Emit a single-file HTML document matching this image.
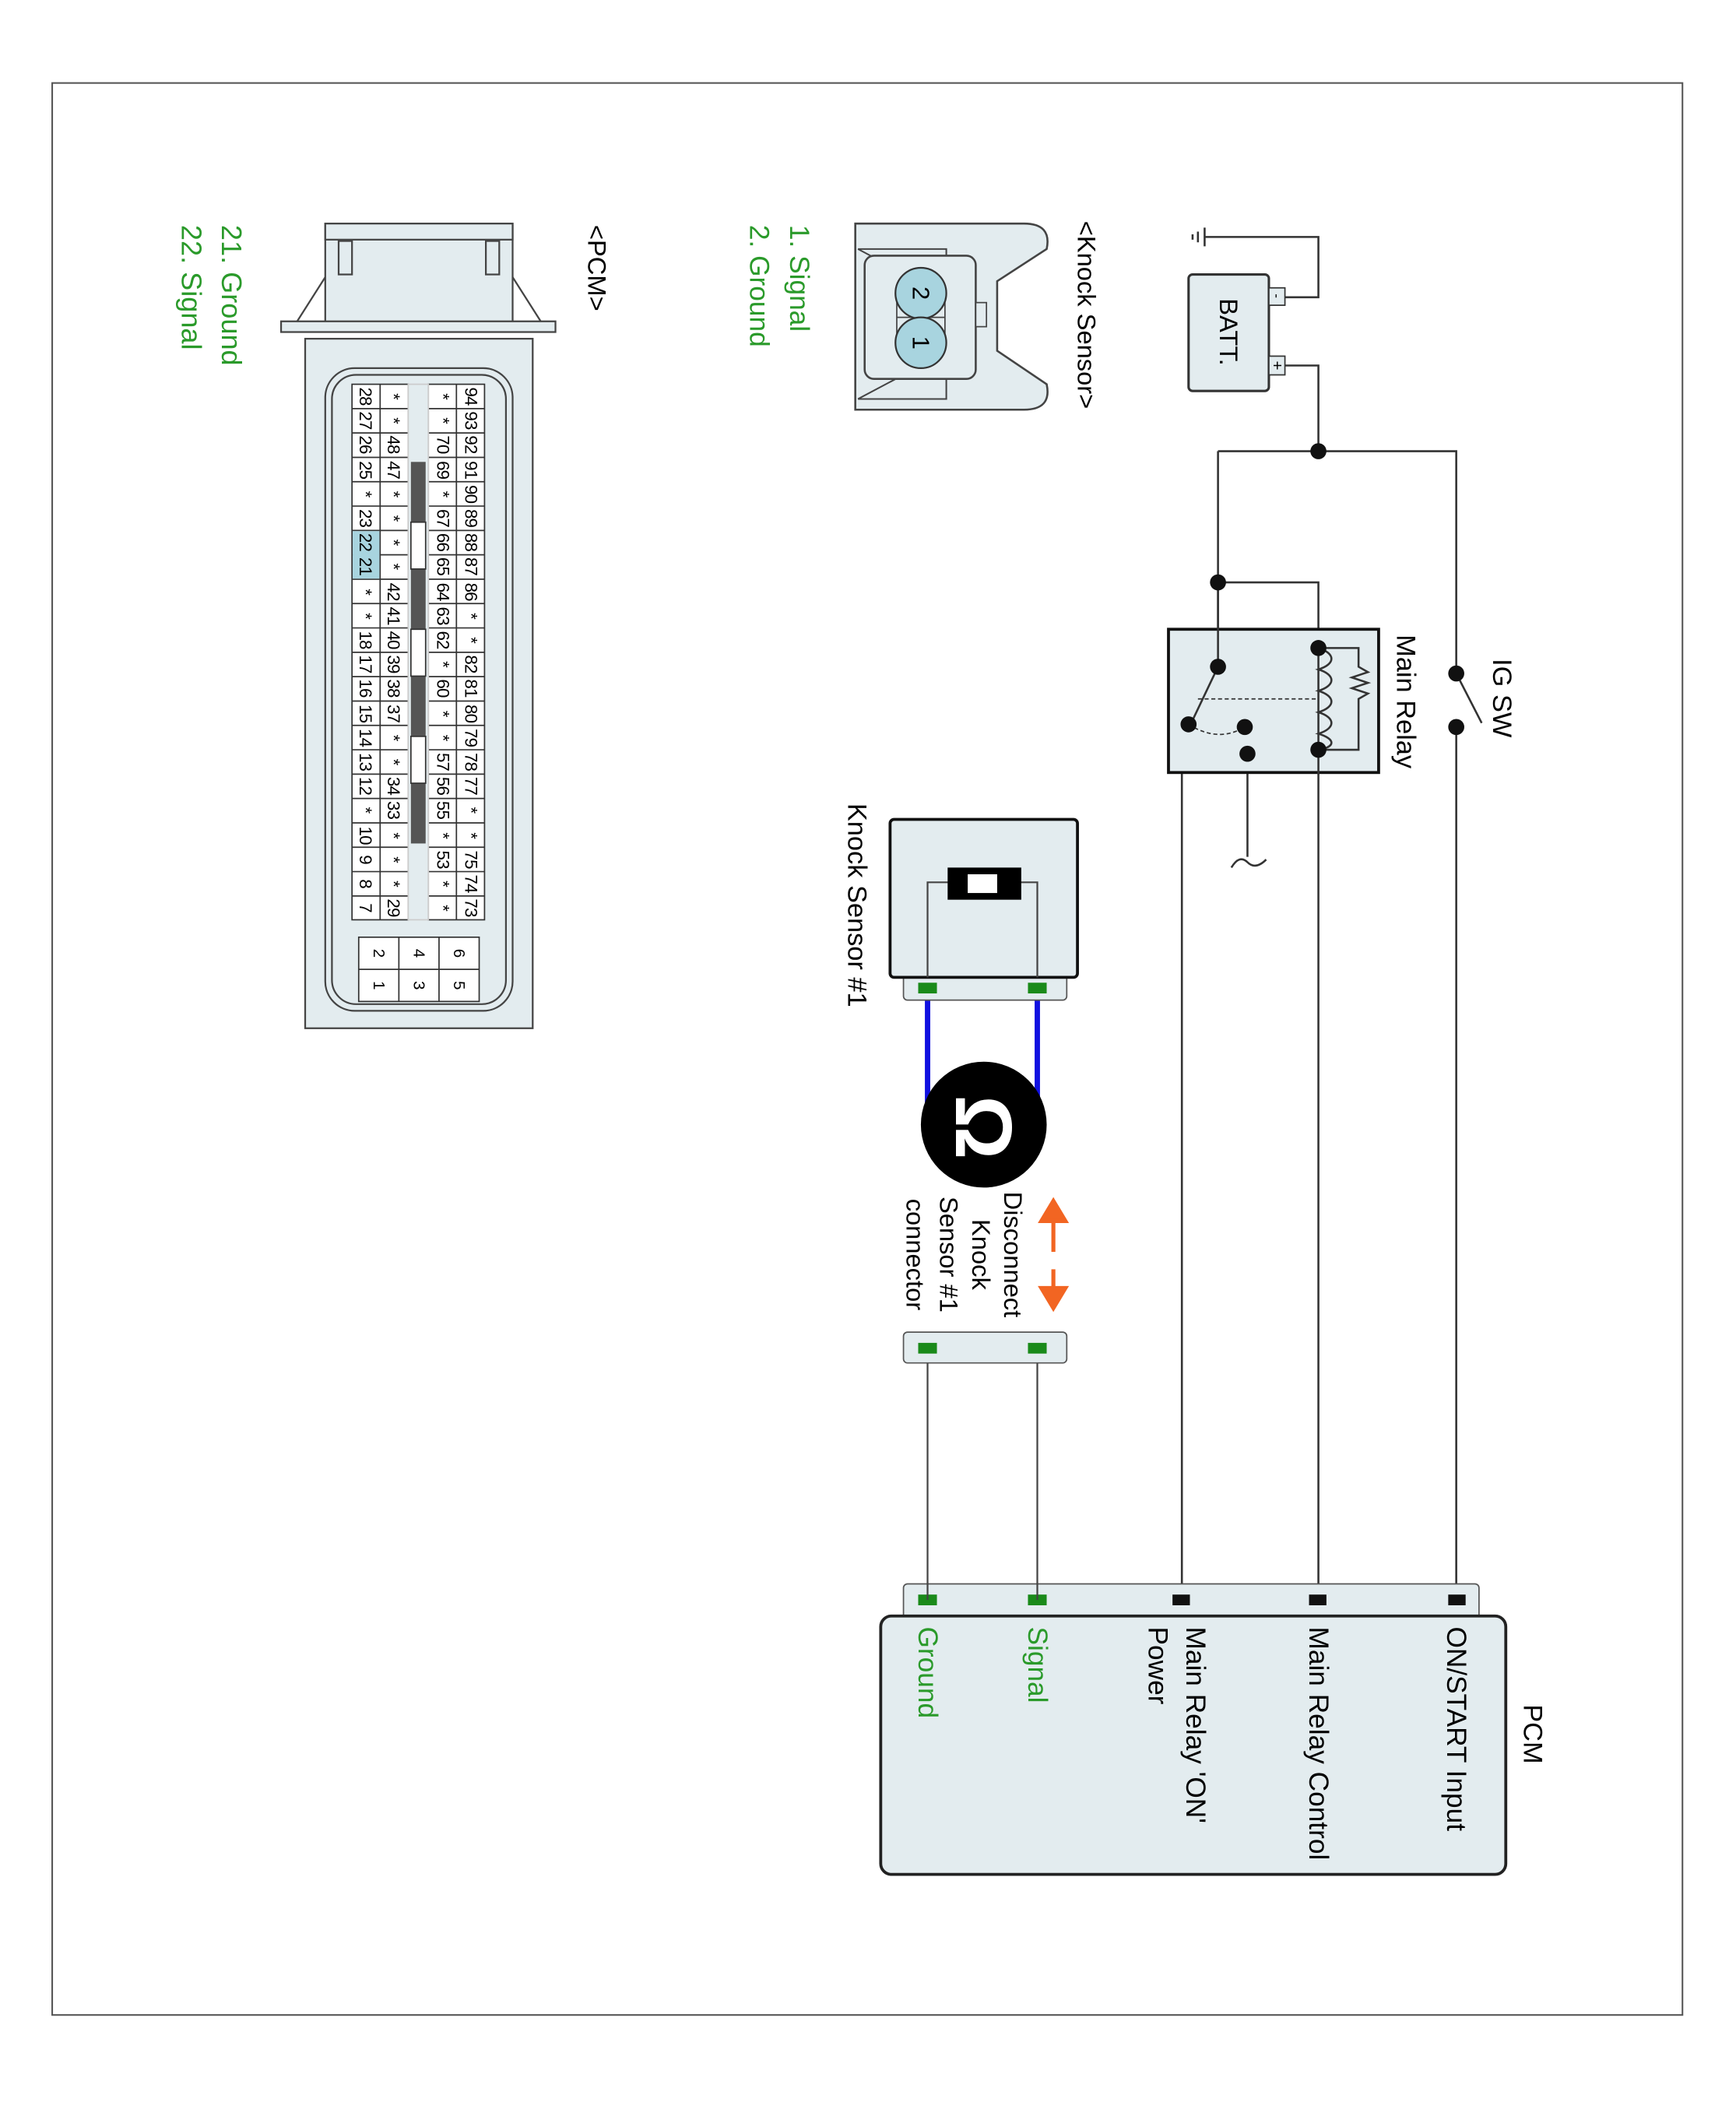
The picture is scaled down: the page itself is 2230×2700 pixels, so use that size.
<!DOCTYPE html>
<html><head><meta charset="utf-8"><style>
html,body{margin:0;padding:0;background:#fff;}
svg{display:block;}
text{font-family:"Liberation Sans",sans-serif;}
</style></head><body>
<svg width="2230" height="2700" viewBox="0 0 1297 1570" preserveAspectRatio="none" xmlns="http://www.w3.org/2000/svg">
<rect x="0" y="0" width="1297" height="1570" fill="#fff"/>
<rect x="39" y="62" width="1218" height="1443" fill="none" stroke="#555" stroke-width="1.2"/>

<g stroke="#333" stroke-width="1.5" fill="none">
<path d="M900,177 H985 V222 H960"/>
<path d="M900,170 V184 M895,173 V181 M891,175 V179"/>
<path d="M960,273 H985 V337"/>
<path d="M910,337 H1088 V503"/>
<path d="M910,337 V498"/>
<path d="M910,435 H985 V484"/>
<path d="M1088,503 L1107,540"/>
<path d="M1088,543 V1195"/>
<path d="M985,560 V1195"/>
<path d="M932,543 V640"/>
<path d="M932,563 H883 V1195"/>
</g>
<rect x="888" y="205" width="60" height="87" rx="3" fill="#e3ecef" stroke="#333" stroke-width="1.8"/>
<rect x="948" y="215" width="12" height="13" fill="#e3ecef" stroke="#333"/>
<rect x="948" y="266" width="12" height="14" fill="#e3ecef" stroke="#333"/>
<text transform="translate(918,248) rotate(90)" text-anchor="middle" dominant-baseline="central" font-size="19">BATT.</text>
<text transform="translate(954,221) rotate(90)" text-anchor="middle" dominant-baseline="central" font-size="10">-</text>
<text transform="translate(954,273) rotate(90)" text-anchor="middle" dominant-baseline="central" font-size="12">+</text>

<rect x="873" y="470" width="157" height="107" fill="#e3ecef" stroke="#111" stroke-width="2.2"/>
<g stroke="#333" stroke-width="1.5" fill="none">
<path d="M910,435 V498 L890,540"/>
<path d="M985,484 V578"/>
<path d="M985,484 C998,488 998,496 985,500 C998,504 998,512 985,516 C998,520 998,528 985,532 C998,536 998,544 985,548 C998,552 998,558 985,560"/>
<path d="M985,484 H1015 V498 L1022,502 L1010,506 L1022,510 L1010,514 L1022,518 L1015,522 V560 H985"/>
<path d="M895,522 H985" stroke-dasharray="3,2" stroke-width="1"/>
<path d="M888,541 Q910,555 930,543" stroke-dasharray="3,2" stroke-width="1"/>
<path d="M920,648 Q926,638 932,644 Q938,650 946,642"/>
</g>
<g fill="#111">
<circle cx="985" cy="337" r="6"/><circle cx="910" cy="435" r="6"/>
<circle cx="910" cy="498" r="6"/><circle cx="985" cy="484" r="6"/>
<circle cx="985" cy="560" r="6"/><circle cx="888" cy="541" r="6"/>
<circle cx="930" cy="543" r="6"/><circle cx="932" cy="563" r="6"/>
<circle cx="1088" cy="503" r="6"/><circle cx="1088" cy="543" r="6"/>
</g>
<text transform="translate(1050,474) rotate(90)" dominant-baseline="central" font-size="20">Main Relay</text>
<text transform="translate(1122,492) rotate(90)" dominant-baseline="central" font-size="20">IG SW</text>

<rect x="675" y="1183" width="430" height="26" rx="3" fill="#e3ecef" stroke="#555"/>
<rect x="658" y="1207" width="467" height="193" rx="8" fill="#e3ecef" stroke="#222" stroke-width="2.2"/>
<rect x="1082" y="1191" width="13" height="8" fill="#111"/>
<rect x="978" y="1191" width="13" height="8" fill="#111"/>
<rect x="876" y="1191" width="13" height="8" fill="#111"/>
<rect x="768" y="1191" width="14" height="8" fill="#1a8a1a"/>
<rect x="686" y="1191" width="14" height="8" fill="#1a8a1a"/>
<text transform="translate(1145,1273) rotate(90)" dominant-baseline="central" font-size="20">PCM</text>
<text transform="translate(1088,1215) rotate(90)" dominant-baseline="central" font-size="20.5">ON/START Input</text>
<text transform="translate(985,1215) rotate(90)" dominant-baseline="central" font-size="20.5">Main Relay Control</text>
<text transform="translate(893,1215) rotate(90)" dominant-baseline="central" font-size="20.5">Main Relay 'ON'</text>
<text transform="translate(865,1215) rotate(90)" dominant-baseline="central" font-size="20.5">Power</text>
<text transform="translate(775,1215) rotate(90)" dominant-baseline="central" font-size="20.5" fill="#2a9a2a">Signal</text>
<text transform="translate(693,1215) rotate(90)" dominant-baseline="central" font-size="20.5" fill="#2a9a2a">Ground</text>

<g stroke="#444" stroke-width="1.3"><path d="M693,1007 V1195 M775,1007 V1195"/></g>
<rect x="675" y="995" width="122" height="23" rx="3" fill="#e3ecef" stroke="#555"/>
<rect x="686" y="1003" width="14" height="8" fill="#1a8a1a"/>
<rect x="768" y="1003" width="14" height="8" fill="#1a8a1a"/>

<g stroke="#f26522" stroke-width="3" fill="#f26522">
<path d="M787,910 V935 M787,948 V962"/>
<path d="M778,912 L787,897 L796,912 Z"/>
<path d="M778,962 L787,977 L796,962 Z"/>
</g>
<text transform="translate(757,937) rotate(90)" text-anchor="middle" dominant-baseline="central" font-size="19">Disconnect</text>
<text transform="translate(733,937) rotate(90)" text-anchor="middle" dominant-baseline="central" font-size="19">Knock</text>
<text transform="translate(709,937) rotate(90)" text-anchor="middle" dominant-baseline="central" font-size="19">Sensor #1</text>
<text transform="translate(684,937) rotate(90)" text-anchor="middle" dominant-baseline="central" font-size="19">connector</text>

<g stroke="#1010e0" stroke-width="4"><path d="M693,740 V835 M775,740 V835"/></g>
<circle cx="735" cy="840" r="47" fill="#000"/>
<text transform="translate(735,842) rotate(90)" text-anchor="middle" dominant-baseline="central" font-size="60" font-weight="bold" fill="#fff">Ω</text>

<rect x="675" y="725" width="122" height="22" rx="3" fill="#e3ecef" stroke="#555"/>
<rect x="665" y="612" width="140" height="118" rx="3" fill="#e3ecef" stroke="#111" stroke-width="2.2"/>
<g stroke="#444" stroke-width="1.3" fill="none"><path d="M693,730 V659 H775 V730"/></g>
<rect x="708" y="648" width="55" height="24" fill="#000"/>
<rect x="723" y="653" width="22" height="14" fill="#fff"/>
<rect x="686" y="734" width="14" height="8" fill="#1a8a1a"/>
<rect x="768" y="734" width="14" height="8" fill="#1a8a1a"/>
<text transform="translate(640,600) rotate(90)" dominant-baseline="central" font-size="20">Knock Sensor #1</text>

<text transform="translate(812,165) rotate(90)" dominant-baseline="central" font-size="19">&lt;Knock Sensor&gt;</text>
<path d="M639,167 H765 Q786,167 782,186 L745,210 V262 L782,287 Q786,306 765,306 H639 Z" fill="#e3ecef" stroke="#444" stroke-width="1.5"/>
<path d="M641,186 H707 V298 H641 M641,186 L690,212 M641,298 L690,272" fill="none" stroke="#444" stroke-width="1.2"/>
<rect x="646" y="191" width="83" height="92" rx="7" fill="#e3ecef" stroke="#444" stroke-width="1.5"/>
<rect x="729" y="226" width="8" height="18" fill="#e3ecef" stroke="#444"/>
<path d="M670,237 H706 M670,237 V218 M706,237 V218 M670,237 V256 M706,237 V256" stroke="#444"/>
<circle cx="688" cy="219" r="19" fill="#a8d4df" stroke="#333" stroke-width="1.3"/>
<circle cx="688" cy="256" r="19" fill="#a8d4df" stroke="#333" stroke-width="1.3"/>
<text transform="translate(688,219) rotate(90)" text-anchor="middle" dominant-baseline="central" font-size="18">2</text>
<text transform="translate(688,256) rotate(90)" text-anchor="middle" dominant-baseline="central" font-size="18">1</text>
<text transform="translate(597,168) rotate(90)" dominant-baseline="central" font-size="20.5" fill="#2a9a2a">1. Signal</text>
<text transform="translate(567,168) rotate(90)" dominant-baseline="central" font-size="20.5" fill="#2a9a2a">2. Ground</text>

<text transform="translate(446,168) rotate(90)" dominant-baseline="central" font-size="19">&lt;PCM&gt;</text>
<text transform="translate(173,168) rotate(90)" dominant-baseline="central" font-size="21" fill="#2a9a2a">21. Ground</text>
<text transform="translate(143,168) rotate(90)" dominant-baseline="central" font-size="21" fill="#2a9a2a">22. Signal</text>
<g fill="#e3ecef" stroke="#444" stroke-width="1.3">
<rect x="243" y="167" width="140" height="78"/>
<rect x="253" y="180" width="10" height="25"/><rect x="363" y="180" width="10" height="25"/>
<rect x="243" y="167" width="140" height="12"/>
<path d="M210,240 H415 V248 H210 Z"/>
<path d="M222,240 L243,207 M404,240 L383,207"/>
<rect x="228" y="253" width="170" height="515"/>
<rect x="243" y="275" width="140" height="480" rx="22"/>
<rect x="248" y="280" width="130" height="470" rx="18"/>
</g>
<g fill="#fff" stroke="#333" stroke-width="1">
<rect x="320" y="287" width="42" height="400"/>
<rect x="263" y="287" width="42" height="400"/>
<path d="M341,287 V687 M284,287 V687"/>
<path d="M263,305.2 H362 M263,323.4 H362 M263,341.6 H362 M263,359.8 H362 M263,378 H362 M263,396.2 H362 M263,414.4 H362 M263,432.6 H362 M263,450.8 H362 M263,469 H362 M263,487.2 H362 M263,505.4 H362 M263,523.6 H362 M263,541.8 H362 M263,560 H362 M263,578.2 H362 M263,596.4 H362 M263,614.6 H362 M263,632.8 H362 M263,651 H362 M263,669.2 H362"/>
</g>
<rect x="305" y="287" width="15" height="400" fill="#e3ecef"/>
<rect x="305" y="287" width="15" height="400" fill="none" stroke="#ccc"/>
<rect x="263.5" y="396.7" width="20" height="35.5" fill="#a8d4df"/>
<g fill="#555"><rect x="307" y="345" width="11" height="45"/><rect x="307" y="425" width="11" height="45"/><rect x="307" y="505" width="11" height="45"/><rect x="307" y="585" width="11" height="45"/></g>
<g fill="#fff" stroke="#333"><rect x="307" y="390" width="11" height="35"/><rect x="307" y="470" width="11" height="35"/><rect x="307" y="550" width="11" height="35"/></g>
<g fill="#fff" stroke="#333" stroke-width="1">
<rect x="268" y="700" width="90" height="48"/>
<path d="M298,700 V748 M328,700 V748 M268,724 H358"/>
</g>
<g font-size="12" text-anchor="middle" dominant-baseline="central">
<text transform="translate(343,712) rotate(90)">6</text><text transform="translate(343,736) rotate(90)">5</text>
<text transform="translate(313,712) rotate(90)">4</text><text transform="translate(313,736) rotate(90)">3</text>
<text transform="translate(283,712) rotate(90)">2</text><text transform="translate(283,736) rotate(90)">1</text>
</g>
<g font-size="13" text-anchor="middle" dominant-baseline="central" letter-spacing="-0.5">
<text transform="translate(352,296) rotate(90)">94</text><text transform="translate(352,314) rotate(90)">93</text><text transform="translate(352,332) rotate(90)">92</text><text transform="translate(352,351) rotate(90)">91</text><text transform="translate(352,369) rotate(90)">90</text><text transform="translate(352,387) rotate(90)">89</text><text transform="translate(352,405) rotate(90)">88</text><text transform="translate(352,423) rotate(90)">87</text><text transform="translate(352,442) rotate(90)">86</text><text transform="translate(352,460) rotate(90)">*</text><text transform="translate(352,478) rotate(90)">*</text><text transform="translate(352,496) rotate(90)">82</text><text transform="translate(352,514) rotate(90)">81</text><text transform="translate(352,533) rotate(90)">80</text><text transform="translate(352,551) rotate(90)">79</text><text transform="translate(352,569) rotate(90)">78</text><text transform="translate(352,587) rotate(90)">77</text><text transform="translate(352,605) rotate(90)">*</text><text transform="translate(352,624) rotate(90)">*</text><text transform="translate(352,642) rotate(90)">75</text><text transform="translate(352,660) rotate(90)">74</text><text transform="translate(352,678) rotate(90)">73</text>
<text transform="translate(331,296) rotate(90)">*</text><text transform="translate(331,314) rotate(90)">*</text><text transform="translate(331,332) rotate(90)">70</text><text transform="translate(331,351) rotate(90)">69</text><text transform="translate(331,369) rotate(90)">*</text><text transform="translate(331,387) rotate(90)">67</text><text transform="translate(331,405) rotate(90)">66</text><text transform="translate(331,423) rotate(90)">65</text><text transform="translate(331,442) rotate(90)">64</text><text transform="translate(331,460) rotate(90)">63</text><text transform="translate(331,478) rotate(90)">62</text><text transform="translate(331,496) rotate(90)">*</text><text transform="translate(331,514) rotate(90)">60</text><text transform="translate(331,533) rotate(90)">*</text><text transform="translate(331,551) rotate(90)">*</text><text transform="translate(331,569) rotate(90)">57</text><text transform="translate(331,587) rotate(90)">56</text><text transform="translate(331,605) rotate(90)">55</text><text transform="translate(331,624) rotate(90)">*</text><text transform="translate(331,642) rotate(90)">53</text><text transform="translate(331,660) rotate(90)">*</text><text transform="translate(331,678) rotate(90)">*</text>
<text transform="translate(294,296) rotate(90)">*</text><text transform="translate(294,314) rotate(90)">*</text><text transform="translate(294,332) rotate(90)">48</text><text transform="translate(294,351) rotate(90)">47</text><text transform="translate(294,369) rotate(90)">*</text><text transform="translate(294,387) rotate(90)">*</text><text transform="translate(294,405) rotate(90)">*</text><text transform="translate(294,423) rotate(90)">*</text><text transform="translate(294,442) rotate(90)">42</text><text transform="translate(294,460) rotate(90)">41</text><text transform="translate(294,478) rotate(90)">40</text><text transform="translate(294,496) rotate(90)">39</text><text transform="translate(294,514) rotate(90)">38</text><text transform="translate(294,533) rotate(90)">37</text><text transform="translate(294,551) rotate(90)">*</text><text transform="translate(294,569) rotate(90)">*</text><text transform="translate(294,587) rotate(90)">34</text><text transform="translate(294,605) rotate(90)">33</text><text transform="translate(294,624) rotate(90)">*</text><text transform="translate(294,642) rotate(90)">*</text><text transform="translate(294,660) rotate(90)">*</text><text transform="translate(294,678) rotate(90)">29</text>
<text transform="translate(273,296) rotate(90)">28</text><text transform="translate(273,314) rotate(90)">27</text><text transform="translate(273,332) rotate(90)">26</text><text transform="translate(273,351) rotate(90)">25</text><text transform="translate(273,369) rotate(90)">*</text><text transform="translate(273,387) rotate(90)">23</text><text transform="translate(273,405) rotate(90)">22</text><text transform="translate(273,423) rotate(90)">21</text><text transform="translate(273,442) rotate(90)">*</text><text transform="translate(273,460) rotate(90)">*</text><text transform="translate(273,478) rotate(90)">18</text><text transform="translate(273,496) rotate(90)">17</text><text transform="translate(273,514) rotate(90)">16</text><text transform="translate(273,533) rotate(90)">15</text><text transform="translate(273,551) rotate(90)">14</text><text transform="translate(273,569) rotate(90)">13</text><text transform="translate(273,587) rotate(90)">12</text><text transform="translate(273,605) rotate(90)">*</text><text transform="translate(273,624) rotate(90)">10</text><text transform="translate(273,642) rotate(90)">9</text><text transform="translate(273,660) rotate(90)">8</text><text transform="translate(273,678) rotate(90)">7</text>
</g>
</svg>
</body></html>
